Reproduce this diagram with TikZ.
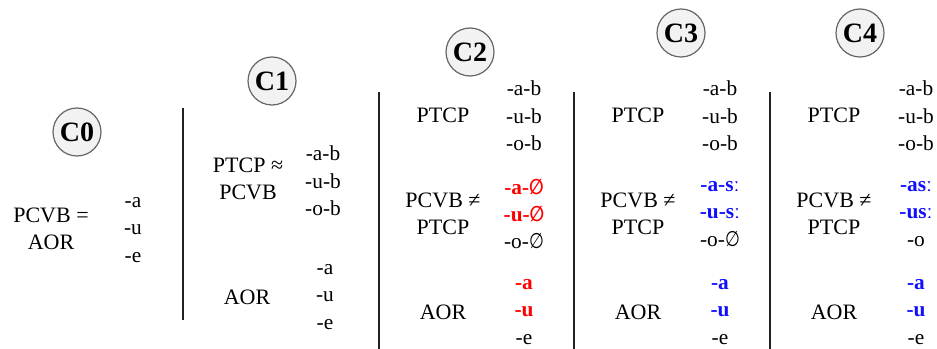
\documentclass[tikz,border=0pt]{standalone}
\usepackage{fontspec}
\setmainfont{Liberation Serif}
\newfontfamily\emptysetfont[FakeStretch=0.8]{DejaVu Sans}
\definecolor{ringline}{HTML}{666666}
\definecolor{ringfill}{HTML}{F2F2F2}
\definecolor{rulecol}{HTML}{222222}
\definecolor{hiRed}{HTML}{FF0000}
\definecolor{hiBlue}{HTML}{1010FF}
\tikzset{
  stage/.style={circle, draw=ringline, fill=ringfill, line width=0.9pt,
    minimum size=36pt, inner sep=0pt, font=\fontsize{21}{24}\selectfont\bfseries},
  label/.style={align=center, inner sep=0pt, font=\fontsize{16.5}{20.5}\selectfont},
  forms/.style={align=center, inner sep=0pt, font=\fontsize{16}{20.6}\selectfont},
  divider/.style={draw=rulecol, line width=1.3pt},
}
\newcommand{\nul}{{\emptysetfont ∅}}
\newcommand{\rd}[1]{\textcolor{hiRed}{\textbf{#1}}}
\newcommand{\bl}[1]{\textcolor{hiBlue}{\textbf{#1}}}
\begin{document}
\begin{tikzpicture}[x=0.75pt,y=-0.75pt]
\useasboundingbox (0,0) rectangle (937,349);

% stage markers
\node[stage] (c0) at (77,132) {C0};
\node[stage] (c1) at (272,81) {C1};
\node[stage] (c2) at (470,52) {C2};
\node[stage] (c3) at (681,33) {C3};
\node[stage] (c4) at (860,33) {C4};

% dividers between stages
\coordinate (d1t) at (183,108); \coordinate (d1b) at (183,320);
\coordinate (d2t) at (379,92);  \coordinate (d2b) at (379,349);
\coordinate (d3t) at (574,92);  \coordinate (d3b) at (574,349);
\coordinate (d4t) at (770,92);  \coordinate (d4b) at (770,349);
\draw[divider] (d1t) -- (d1b);
\draw[divider] (d2t) -- (d2b);
\draw[divider] (d3t) -- (d3b);
\draw[divider] (d4t) -- (d4b);

% C0
\node[label] (c0l) at (51,229) {PCVB =\\AOR};
\node[forms] (c0f) at (133,230) {-a\\-u\\-e};

% C1
\node[label] (c1l) at (248,179) {PTCP ≈\\PCVB};
\node[forms] (c1f) at (323,181) {-a-b\\-u-b\\-o-b};
\node[label] (c1a) at (247,297) {AOR};
\node[forms] (c1g) at (325,297) {-a\\-u\\-e};

% C2
\node[label] (c2p) at (443,115) {PTCP};
\node[forms] (c2f) at (524,116) {-a-b\\-u-b\\-o-b};
\node[label] (c2l) at (443,214) {PCVB ≠\\PTCP};
\node[forms] (c2g) at (524,214) {\rd{-a-\nul}\\\rd{-u-\nul}\\-o-\nul};
\node[label] (c2a) at (443,312) {AOR};
\node[forms] (c2h) at (524,312) {\rd{-a}\\\rd{-u}\\-e};

% C3
\node[label] (c3p) at (638,115) {PTCP};
\node[forms] (c3f) at (720,116) {-a-b\\-u-b\\-o-b};
\node[label] (c3l) at (638,214) {PCVB ≠\\PTCP};
\node[forms] (c3g) at (720,214) {\bl{-a-sː}\\\bl{-u-sː}\\-o-\nul};
\node[label] (c3a) at (638,312) {AOR};
\node[forms] (c3h) at (720,312) {\bl{-a}\\\bl{-u}\\-e};

% C4
\node[label] (c4p) at (834,115) {PTCP};
\node[forms] (c4f) at (916,116) {-a-b\\-u-b\\-o-b};
\node[label] (c4l) at (834,214) {PCVB ≠\\PTCP};
\node[forms] (c4g) at (916,214) {\bl{-asː}\\\bl{-usː}\\-o};
\node[label] (c4a) at (834,312) {AOR};
\node[forms] (c4h) at (916,312) {\bl{-a}\\\bl{-u}\\-e};
\end{tikzpicture}
\end{document}
